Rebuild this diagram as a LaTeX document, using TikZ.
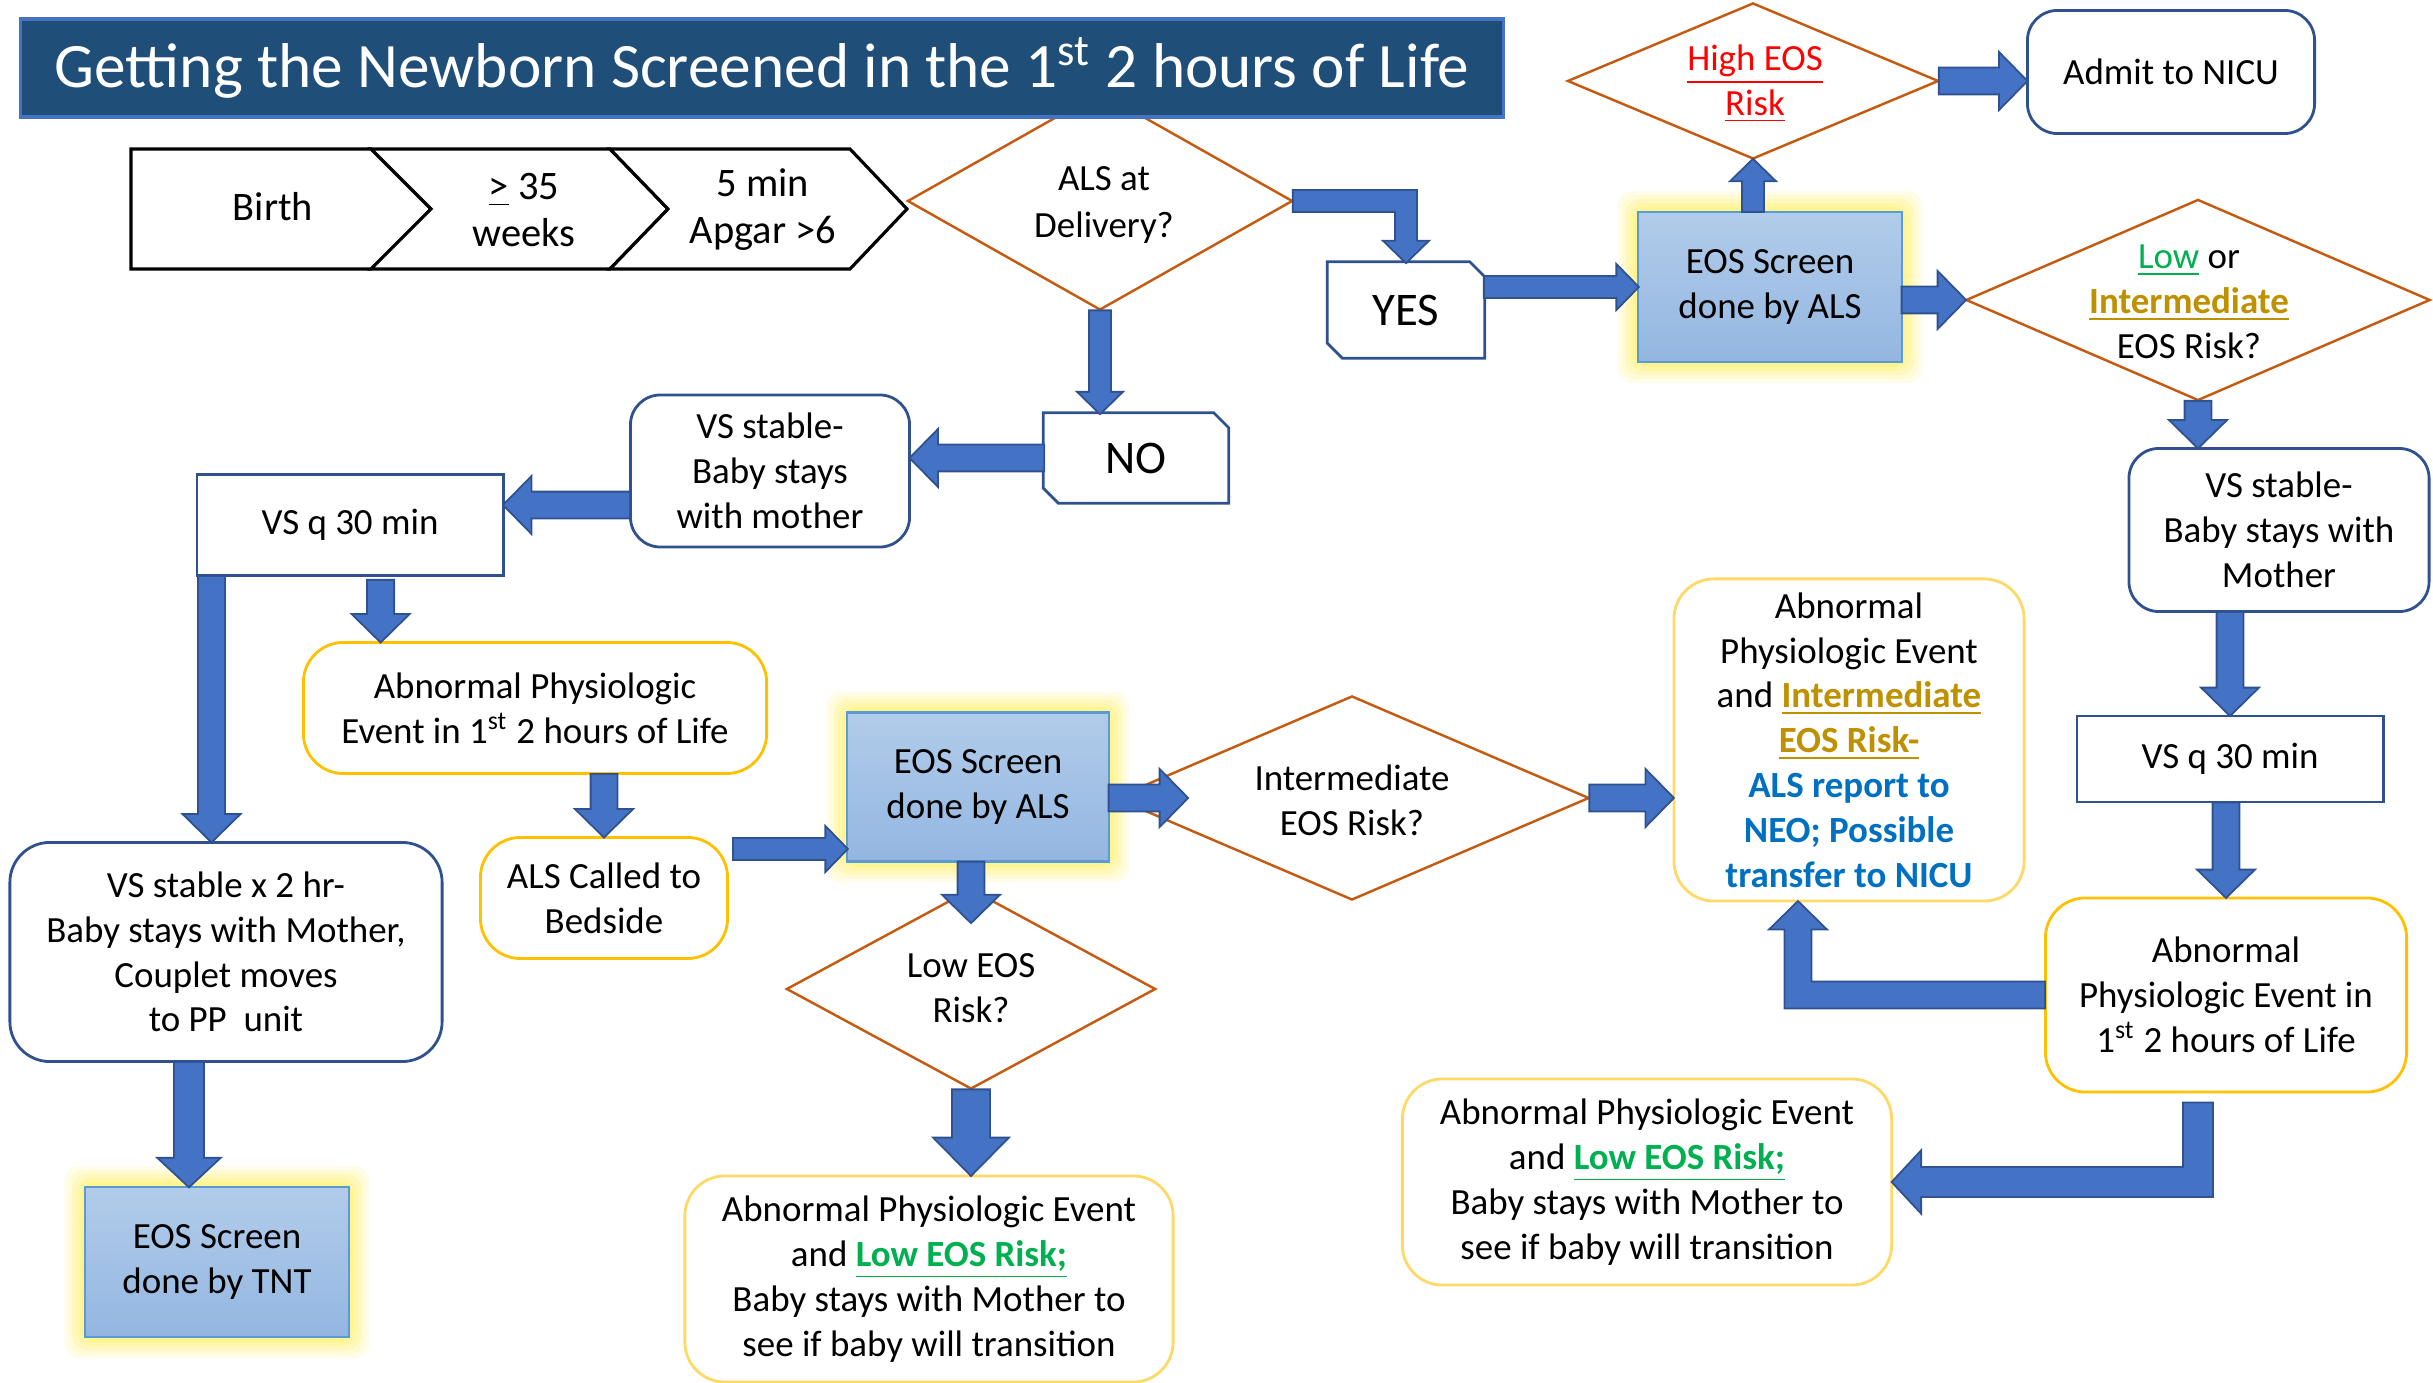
\documentclass[tikz,border=0pt]{standalone}
\usepackage{fontspec}
\setmainfont{Carlito}
\usetikzlibrary{calc,backgrounds,shapes.geometric}

\definecolor{titlefill}{HTML}{1F4E79}
\definecolor{titleedge}{HTML}{4472C4}
\definecolor{boxblue}{HTML}{2F528F}
\definecolor{goldline}{HTML}{FFC000}
\definecolor{paleline}{HTML}{FFD966}
\definecolor{diaedge}{HTML}{C55A11}
\definecolor{eostop}{HTML}{B2CCEA}
\definecolor{eosbot}{HTML}{93B6E1}
\definecolor{eosedge}{HTML}{5B9BD5}
\definecolor{glowcol}{HTML}{FFEE55}
\definecolor{arrowblue}{HTML}{4472C4}
\definecolor{arrowedge}{HTML}{2F528F}
\definecolor{riskred}{HTML}{FF0000}
\definecolor{lowgreen}{HTML}{00B050}
\definecolor{midgold}{HTML}{BF9000}
\definecolor{alsblue}{HTML}{0070C0}

\tikzset{
  boxtext/.style={font=\fontsize{10.5}{12.75}\selectfont,align=center,inner sep=0pt},
  steptext/.style={font=\fontsize{11.5}{13.4}\selectfont,align=center,inner sep=0pt},
  bigtext/.style={font=\fontsize{13.3}{16}\selectfont,inner sep=0pt},
  titlebar/.style={draw=titleedge,line width=1pt,fill=titlefill,text=white,
    font=\fontsize{18}{21}\selectfont,inner sep=0pt},
  bluebox/.style={boxtext,draw=boxblue,line width=0.8pt,fill=white,rounded corners=0.3cm},
  plainbox/.style={boxtext,draw=boxblue,line width=0.8pt,fill=white},
  goldbox/.style={boxtext,draw=goldline,line width=0.8pt,fill=white,rounded corners=0.4cm},
  palebox/.style={goldbox,draw=paleline},
  eosbox/.style={boxtext,draw=eosedge,line width=0.6pt,top color=eostop,bottom color=eosbot},
  decision/.style={diamond,draw=diaedge,line width=0.7pt,fill=white,inner sep=0pt},
  chev/.style={draw=black,line width=0.9pt,fill=white,line join=miter},
  barrow/.style={draw=arrowedge,line width=1.1pt,line join=miter,postaction={fill=arrowblue}},
  shaftto/.style={to path={
    ($(\tikztostart)!#1!90:(\tikztotarget)$) -- ($(\tikztotarget)!#1!-90:(\tikztostart)$)
    -- ($(\tikztotarget)!#1!90:(\tikztostart)$) -- ($(\tikztostart)!#1!-90:(\tikztotarget)$) -- cycle}},
  blockto/.style n args={3}{to path={
    ($(\tikztostart)!#1!90:(\tikztotarget)$)
    -- ($($(\tikztotarget)!#3!(\tikztostart)$)!#1!90:(\tikztotarget)$)
    -- ($($(\tikztotarget)!#3!(\tikztostart)$)!#2!90:(\tikztotarget)$)
    -- (\tikztotarget)
    -- ($($(\tikztotarget)!#3!(\tikztostart)$)!#2!-90:(\tikztotarget)$)
    -- ($($(\tikztotarget)!#3!(\tikztostart)$)!#1!-90:(\tikztotarget)$)
    -- ($(\tikztostart)!#1!-90:(\tikztotarget)$) -- cycle}},
  slimto/.style={blockto={0.10cm}{0.205cm}{0.20cm}},
  fatto/.style={blockto={0.125cm}{0.265cm}{0.26cm}},
  wideto/.style={blockto={0.14cm}{0.29cm}{0.27cm}},
  bulkyto/.style={blockto={0.18cm}{0.355cm}{0.36cm}}
}

\newcommand{\snipedge}[1]{%
  \draw[draw=boxblue,line width=0.8pt]
    (#1.north west) -- ([xshift=-0.15cm]#1.north east) -- ([yshift=-0.15cm]#1.north east)
    -- (#1.south east) -- ([xshift=0.15cm]#1.south west) -- ([yshift=0.15cm]#1.south west) -- cycle;}

\begin{document}
\begin{tikzpicture}[x=0.01cm,y=-0.01cm]
\useasboundingbox (0,0) rectangle (2433,1383);

% chevrons
\draw[chev] (131,149) -- (371,149) -- (431,209) -- (371,269) -- (131,269) -- cycle;
\draw[chev] (371,149) -- (610,149) -- (668,209) -- (610,269) -- (371,269) -- (431,209) -- cycle;
\draw[chev] (610,149) -- (850,149) -- (907,209) -- (850,269) -- (610,269) -- (668,209) -- cycle;
\node[steptext] (birth) at (273,207) {Birth};
\node[steptext] (weeks) at (524,210) {\underline{>} 35\\weeks};
\node[steptext] (apgar) at (763,210) {5 min\\Apgar >6};

\node[decision,minimum width=3.85cm,minimum height=2.18cm] (als) at (1100,201) {};
\node[boxtext,font=\fontsize{10.5}{13.4}\selectfont] (alstext) at (1104,205) {ALS at\\Delivery?};

\node[titlebar,minimum width=14.82cm,minimum height=0.98cm] (title) at (762,68)
  {Getting the Newborn Screened in the 1\textsuperscript{st} 2 hours of Life};

% ALS side
\node[bigtext,minimum width=1.56cm,minimum height=0.95cm] (yes) at (1406,310) {YES};
\snipedge{yes}
\node[bigtext,minimum width=1.84cm,minimum height=0.89cm] (no) at (1136,458) {NO};
\snipedge{no}
\node[eosbox,minimum width=2.63cm,minimum height=1.50cm] (eosa) at (1770,287) {EOS Screen\\done by ALS};
\node[decision,minimum width=3.71cm,minimum height=1.56cm] (high) at (1753,81) {};
\node[boxtext] (hightext) at (1755,84)
  {\textcolor{riskred}{\underline{High EOS}}\\\textcolor{riskred}{\underline{Risk}}};
\node[bluebox,minimum width=2.87cm,minimum height=1.23cm] (admit) at (2171,72) {Admit to NICU};
\node[decision,minimum width=4.64cm,minimum height=2.01cm] (lowint) at (2198,300) {};
\node[boxtext] (lowinttext) at (2189,302)
  {\textcolor{lowgreen}{\underline{Low}} or\\\textcolor{midgold}{\bfseries\underline{Intermediate}}\\EOS Risk?};
\node[bluebox,minimum width=3.00cm,minimum height=1.63cm] (vsr) at (2279,530) {VS stable-\\Baby stays with\\Mother};
\node[plainbox,minimum width=3.06cm,minimum height=0.86cm] (vsrq) at (2230,759) {VS q 30 min};
\node[goldbox,minimum width=3.61cm,minimum height=1.94cm] (abr) at (2226,995)
  {Abnormal\\Physiologic Event in\\1\textsuperscript{st} 2 hours of Life};
\node[palebox,minimum width=3.50cm,minimum height=3.22cm] (abint) at (1849,740)
  {Abnormal\\Physiologic Event\\and \textcolor{midgold}{\bfseries\underline{Intermediate}}\\
   \textcolor{midgold}{\bfseries\underline{EOS Risk-}}\\\textcolor{alsblue}{\bfseries ALS report to}\\
   \textcolor{alsblue}{\bfseries NEO; Possible}\\\textcolor{alsblue}{\bfseries transfer to NICU}};
\node[decision,minimum width=4.74cm,minimum height=2.04cm] (intd) at (1352,798) {};
\node[boxtext] (intdtext) at (1352,800) {Intermediate\\EOS Risk?};
\node[eosbox,minimum width=2.61cm,minimum height=1.49cm] (eosb) at (978,787) {EOS Screen\\done by ALS};
\node[decision,minimum width=3.69cm,minimum height=2.00cm] (lowd) at (971,989) {};
\node[boxtext] (lowdtext) at (971,988) {Low EOS\\Risk?};
\node[palebox,minimum width=4.88cm,minimum height=2.06cm] (lowbox) at (929,1279)
  {Abnormal Physiologic Event\\and \textcolor{lowgreen}{\bfseries\underline{Low EOS Risk;}}\\
   Baby stays with Mother to\\see if baby will transition};
\node[palebox,minimum width=4.89cm,minimum height=2.06cm] (lowr) at (1647,1182)
  {Abnormal Physiologic Event\\and \textcolor{lowgreen}{\bfseries\underline{Low EOS Risk;}}\\
   Baby stays with Mother to\\see if baby will transition};

% mother side
\node[bluebox,minimum width=2.79cm,minimum height=1.52cm] (vsl) at (770,471) {VS stable-\\Baby stays\\with mother};
\node[plainbox,minimum width=3.06cm,minimum height=1.01cm] (vsq) at (350,525) {VS q 30 min};
\node[goldbox,minimum width=4.63cm,minimum height=1.31cm] (ab1) at (535,708)
  {Abnormal Physiologic\\Event in 1\textsuperscript{st} 2 hours of Life};
\node[goldbox,minimum width=2.47cm,minimum height=1.21cm] (alsc) at (604,898) {ALS Called to\\Bedside};
\node[bluebox,rounded corners=0.4cm,minimum width=4.32cm,minimum height=2.19cm] (vsst) at (226,952)
  {VS stable x 2 hr-\\Baby stays with Mother,\\Couplet moves\\to PP~ unit};
\node[eosbox,minimum width=2.63cm,minimum height=1.50cm] (tnt) at (217,1262) {EOS Screen\\done by TNT};

\begin{scope}[on background layer]
  \foreach \n in {eosa,eosb,tnt}
    \foreach \g/\o in {20/0.12,16/0.15,12/0.18,8/0.22,4/0.3}
      \fill[glowcol,opacity=\o,rounded corners=0.15cm]
        ([shift={(-\g,-\g)}]\n.north west) rectangle ([shift={(\g,\g)}]\n.south east);
\end{scope}

% block arrows
\draw[barrow] (als.east) to[shaftto=0.10cm] (als.east -| yes.north)
  ($(als.east -| yes.north)!0.10cm!180:(yes.north)$) to[slimto] (yes.north);
\draw[barrow] (yes.east |- eosa.west) to[slimto] (eosa.west);
\draw[barrow] (eosa.north -| high.south) to[slimto] (high.south);
\draw[barrow] (high.east) to[fatto] (high.east -| admit.west);
\draw[barrow] (eosa.east |- lowint.west) to[fatto] (lowint.west);
\draw[barrow] (lowint.south) to[fatto] (lowint.south |- vsr.north);
\draw[barrow] (vsr.south -| vsrq.north) to[fatto] (vsrq.north);
\draw[barrow] (abr.north |- vsrq.south) to[fatto] (abr.north);
\coordinate (abintin) at ([xshift=-0.51cm]abint.south);
\draw[barrow] (abr.west) to[shaftto=0.125cm] (abr.west -| abintin)
  ($(abr.west -| abintin)!0.125cm!180:(abintin)$) to[fatto] (abintin);
\draw[barrow] (intd.east) to[fatto] (intd.east -| abint.west);
\coordinate (intdin) at ([xshift=0.73cm]intd.west);
\draw[barrow] (eosb.east |- intdin) to[fatto] (intdin);
\coordinate (lowdin) at ([yshift=-0.34cm]lowd.north);
\draw[barrow] (eosb.south -| lowdin) to[fatto] (lowdin);
\draw[barrow] (lowd.south) to[bulkyto] (lowd.south |- lowbox.north);
\coordinate (abrout) at ([xshift=-0.28cm,yshift=-0.1cm]abr.south);
\draw[barrow] (abrout) to[shaftto=0.14cm] (abrout |- lowr.east)
  ($(abrout |- lowr.east)!0.14cm!180:(lowr.east)$) to[wideto] (lowr.east);
\draw[barrow] (als.south) to[slimto] (als.south |- no.north);
\draw[barrow] (no.west) to[fatto] (no.west -| vsl.east);
\coordinate (vslout) at ([yshift=-0.34cm]vsl.west);
\draw[barrow] (vslout) to[fatto] (vslout -| vsq.east);
\coordinate (vsqa) at ([xshift=0.16cm]vsq.south west);
\draw[barrow] (vsqa) to[fatto] (vsqa |- vsst.north);
\coordinate (vsqb) at ([xshift=1.85cm,yshift=-0.04cm]vsq.south west);
\draw[barrow] (vsqb) to[fatto] (vsqb |- ab1.north);
\draw[barrow] (ab1.south -| alsc.north) to[fatto] (alsc.north);
\coordinate (alscout) at ([xshift=0.05cm,yshift=0.49cm]alsc.east);
\draw[barrow] (alscout) to[slimto] (alscout -| eosb.west);
\coordinate (vsstout) at ([xshift=-0.37cm]vsst.south);
\draw[barrow] (vsstout) to[wideto] (vsstout |- tnt.north);
\end{tikzpicture}
\end{document}
